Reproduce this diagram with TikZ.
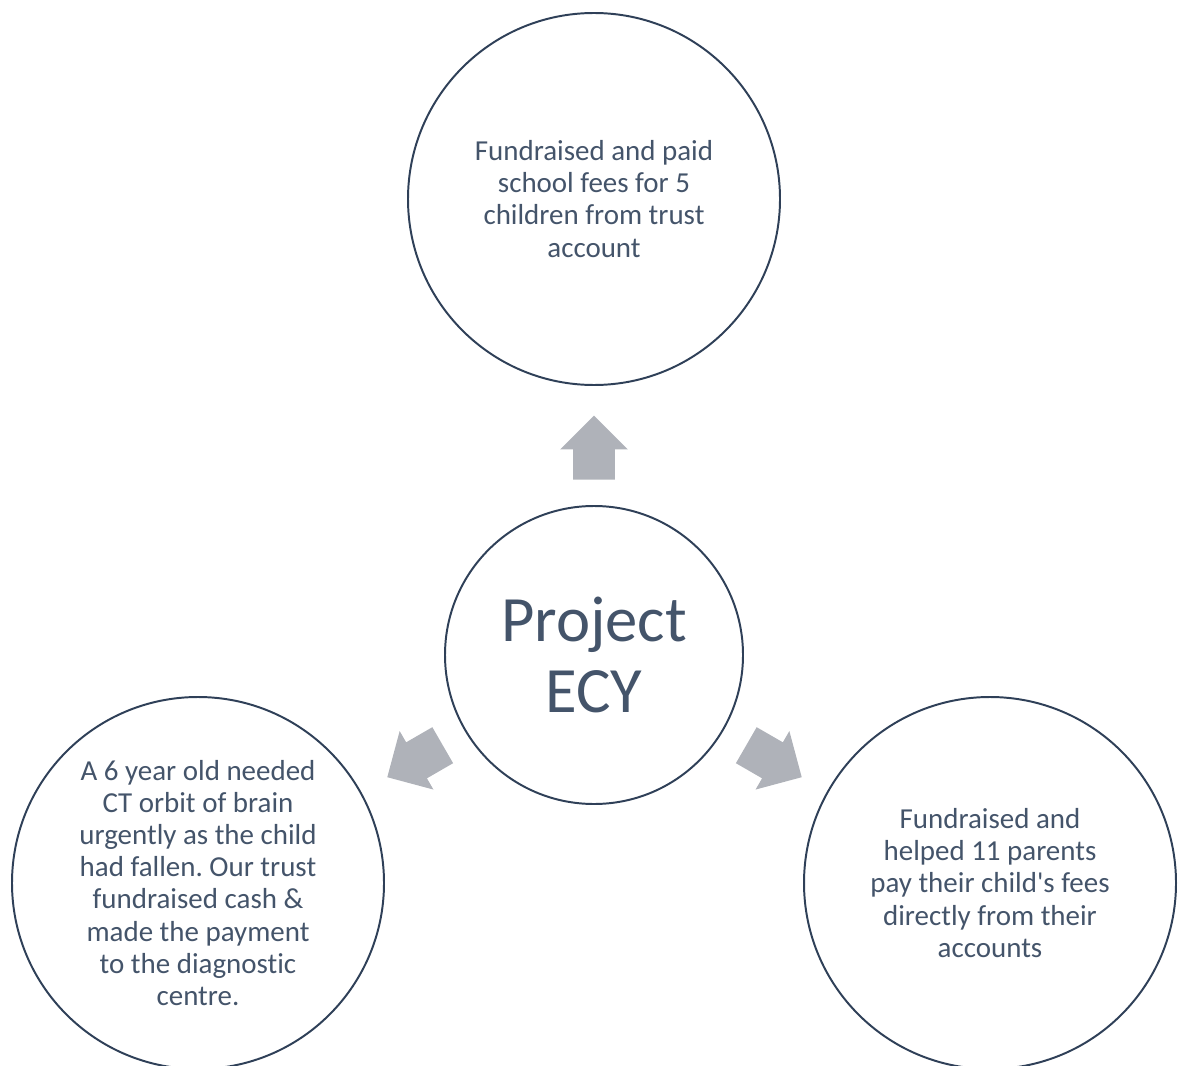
\documentclass[tikz,border=0pt]{standalone}
\usepackage{fontspec}
\setmainfont{Carlito}[Ligatures={NoCommon,NoDiscretionary}]
\usetikzlibrary{shapes.arrows}
\definecolor{ringcol}{HTML}{2F4058}
\definecolor{txtcol}{HTML}{44546A}
\definecolor{arrcol}{HTML}{AFB2B9}
\frenchspacing

\begin{document}
\begin{tikzpicture}[
        hub/.style={circle,draw=ringcol,line width=1.4pt,minimum size=7.45cm,inner sep=0pt,
          align=center,text=txtcol,font=\fontsize{46}{50}\selectfont},
        leaf/.style={circle,draw=ringcol,line width=1.4pt,minimum size=9.3cm,inner sep=0pt,
          align=center,text=txtcol,font=\fontsize{20.6}{22.8}\selectfont},
        blk/.style={single arrow,fill=arrcol,draw=none,inner xsep=0pt,inner ysep=0.5125cm,
          minimum height=1.6cm,single arrow head extend=0.325cm,single arrow tip angle=90}]
        \useasboundingbox (0,0) rectangle (29.45,-26.65);
        \node[hub](ecy) at (14.85,-16.375){Project\\ECY};
        \node[leaf](top) at (14.85,-4.975){Fundraised and paid\\school fees for 5\\children from trust\\account};
        \node[leaf](lft) at (4.95,-22.075){A 6 year old needed\\CT orbit of brain\\urgently as the child\\had fallen. Our trust\\fundraised cash \&\\made the payment\\to the diagnostic\\centre.};
        \node[leaf](rgt) at (24.75,-22.075){Fundraised and\\helped 11 parents\\pay their child\textquotesingle s fees\\directly from their\\accounts};
        \node[blk,rotate=90](up) at (14.85,-11.45){};
        \node[blk,rotate=210](dl) at (10.6,-18.9){};
        \node[blk,rotate=330](dr) at (19.125,-18.9){};
      \end{tikzpicture}
\end{document}
